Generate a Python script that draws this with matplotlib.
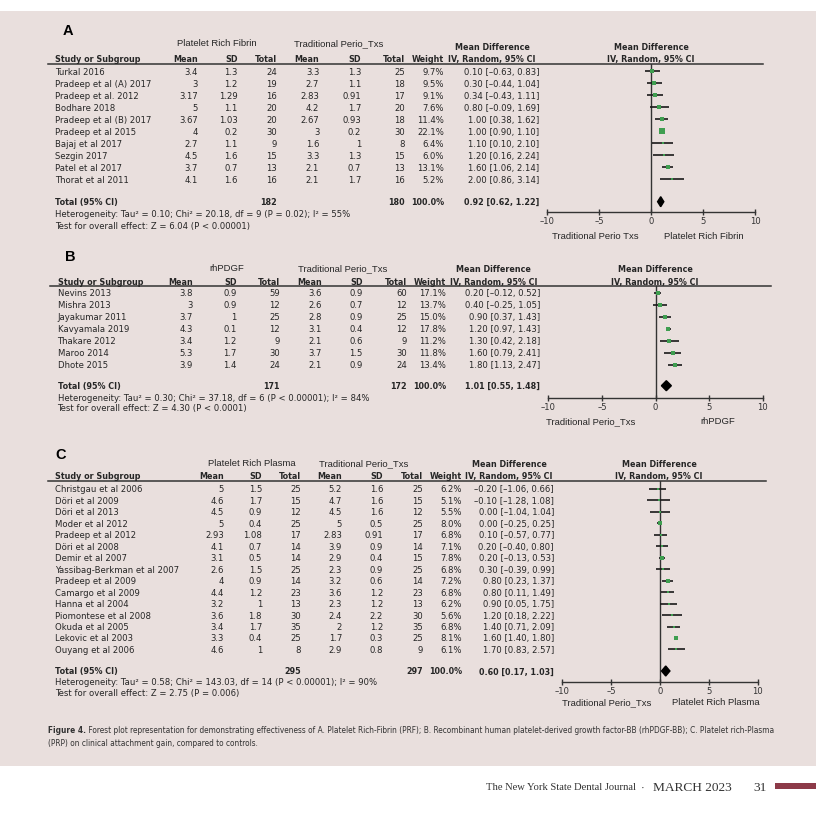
import matplotlib
matplotlib.use("Agg")
import matplotlib.pyplot as plt
from matplotlib.lines import Line2D
from matplotlib.patches import Rectangle
from matplotlib import font_manager as fm

# ------------------------------------------------------------------ data
xticks = [-10, -5, 0, 5, 10]

# Panel A
A_exp_name = "Platelet Rich Fibrin"
A_ctl_name = "Traditional Perio_Txs"
A_studies = ["Turkal 2016", "Pradeep et al (A) 2017", "Pradeep et al. 2012", "Bodhare 2018",
             "Pradeep et al (B) 2017", "Pradeep et al 2015", "Bajaj et al 2017", "Sezgin 2017",
             "Patel et al 2017", "Thorat et al 2011"]
A_exp_mean = [3.4, 3, 3.17, 5, 3.67, 4, 2.7, 4.5, 3.7, 4.1]
A_exp_sd = [1.3, 1.2, 1.29, 1.1, 1.03, 0.2, 1.1, 1.6, 0.7, 1.6]
A_exp_n = [24, 19, 16, 20, 20, 30, 9, 15, 13, 16]
A_ctl_mean = [3.3, 2.7, 2.83, 4.2, 2.67, 3, 1.6, 3.3, 2.1, 2.1]
A_ctl_sd = [1.3, 1.1, 0.91, 1.7, 0.93, 0.2, 1, 1.3, 0.7, 1.7]
A_ctl_n = [25, 18, 17, 20, 18, 30, 8, 15, 13, 16]
A_weight = [9.7, 9.5, 9.1, 7.6, 11.4, 22.1, 6.4, 6.0, 13.1, 5.2]
A_md = [0.10, 0.30, 0.34, 0.80, 1.00, 1.00, 1.10, 1.20, 1.60, 2.00]
A_lo = [-0.63, -0.44, -0.43, -0.09, 0.38, 0.90, 0.10, 0.16, 1.06, 0.86]
A_hi = [0.83, 1.04, 1.11, 1.69, 1.62, 1.10, 2.10, 2.24, 2.14, 3.14]
A_total_n = [182, 180]
A_total_weight = 100.0
A_total_md = [0.92, 0.62, 1.22]
A_het = "Heterogeneity: Tau\u00b2 = 0.10; Chi\u00b2 = 20.18, df = 9 (P = 0.02); I\u00b2 = 55%"
A_test = "Test for overall effect: Z = 6.04 (P < 0.00001)"
A_axis_labels = ["Traditional Perio Txs", "Platelet Rich Fibrin"]

# Panel B
B_exp_name = "rhPDGF"
B_ctl_name = "Traditional Perio_Txs"
B_studies = ["Nevins 2013", "Mishra 2013", "Jayakumar 2011", "Kavyamala 2019",
             "Thakare 2012", "Maroo 2014", "Dhote 2015"]
B_exp_mean = [3.8, 3, 3.7, 4.3, 3.4, 5.3, 3.9]
B_exp_sd = [0.9, 0.9, 1, 0.1, 1.2, 1.7, 1.4]
B_exp_n = [59, 12, 25, 12, 9, 30, 24]
B_ctl_mean = [3.6, 2.6, 2.8, 3.1, 2.1, 3.7, 2.1]
B_ctl_sd = [0.9, 0.7, 0.9, 0.4, 0.6, 1.5, 0.9]
B_ctl_n = [60, 12, 25, 12, 9, 30, 24]
B_weight = [17.1, 13.7, 15.0, 17.8, 11.2, 11.8, 13.4]
B_md = [0.20, 0.40, 0.90, 1.20, 1.30, 1.60, 1.80]
B_lo = [-0.12, -0.25, 0.37, 0.97, 0.42, 0.79, 1.13]
B_hi = [0.52, 1.05, 1.43, 1.43, 2.18, 2.41, 2.47]
B_total_n = [171, 172]
B_total_weight = 100.0
B_total_md = [1.01, 0.55, 1.48]
B_het = "Heterogeneity: Tau\u00b2 = 0.30; Chi\u00b2 = 37.18, df = 6 (P < 0.00001); I\u00b2 = 84%"
B_test = "Test for overall effect: Z = 4.30 (P < 0.0001)"
B_axis_labels = ["Traditional Perio_Txs", "rhPDGF"]

# Panel C
C_exp_name = "Platelet Rich Plasma"
C_ctl_name = "Traditional Perio_Txs"
C_studies = ["Christgau et al 2006", "D\u00f6ri et al 2009", "D\u00f6ri et al 2013", "Moder et al 2012",
             "Pradeep et al 2012", "D\u00f6ri et al 2008", "Demir et al 2007",
             "Yassibag-Berkman et al 2007", "Pradeep et al 2009", "Camargo et al 2009",
             "Hanna et al 2004", "Piomontese et al 2008", "Okuda et al 2005",
             "Lekovic et al 2003", "Ouyang et al 2006"]
C_exp_mean = [5, 4.6, 4.5, 5, 2.93, 4.1, 3.1, 2.6, 4, 4.4, 3.2, 3.6, 3.4, 3.3, 4.6]
C_exp_sd = [1.5, 1.7, 0.9, 0.4, 1.08, 0.7, 0.5, 1.5, 0.9, 1.2, 1, 1.8, 1.7, 0.4, 1]
C_exp_n = [25, 15, 12, 25, 17, 14, 14, 25, 14, 23, 13, 30, 35, 25, 8]
C_ctl_mean = [5.2, 4.7, 4.5, 5, 2.83, 3.9, 2.9, 2.3, 3.2, 3.6, 2.3, 2.4, 2, 1.7, 2.9]
C_ctl_sd = [1.6, 1.6, 1.6, 0.5, 0.91, 0.9, 0.4, 0.9, 0.6, 1.2, 1.2, 2.2, 1.2, 0.3, 0.8]
C_ctl_n = [25, 15, 12, 25, 17, 14, 15, 25, 14, 23, 13, 30, 35, 25, 9]
C_weight = [6.2, 5.1, 5.5, 8.0, 6.8, 7.1, 7.8, 6.8, 7.2, 6.8, 6.2, 5.6, 6.8, 8.1, 6.1]
C_md = [-0.20, -0.10, 0.00, 0.00, 0.10, 0.20, 0.20, 0.30, 0.80, 0.80, 0.90, 1.20, 1.40, 1.60, 1.70]
C_lo = [-1.06, -1.28, -1.04, -0.25, -0.57, -0.40, -0.13, -0.39, 0.23, 0.11, 0.05, 0.18, 0.71, 1.40, 0.83]
C_hi = [0.66, 1.08, 1.04, 0.25, 0.77, 0.80, 0.53, 0.99, 1.37, 1.49, 1.75, 2.22, 2.09, 1.80, 2.57]
C_total_n = [295, 297]
C_total_weight = 100.0
C_total_md = [0.60, 0.17, 1.03]
C_het = "Heterogeneity: Tau\u00b2 = 0.58; Chi\u00b2 = 143.03, df = 14 (P < 0.00001); I\u00b2 = 90%"
C_test = "Test for overall effect: Z = 2.75 (P = 0.006)"
C_axis_labels = ["Traditional Perio_Txs", "Platelet Rich Plasma"]

col_headers = ["Mean", "SD", "Total", "Mean", "SD", "Total", "Weight"]
caption_bold = "Figure 4."
caption_line1 = (" Forest plot representation for demonstrating effectiveness of A. Platelet Rich-Fibrin (PRF); "
                 "B. Recombinant human platelet-derived growth factor-BB (rhPDGF-BB); C. Platelet rich-Plasma")
caption_line2 = "(PRP) on clinical attachment gain, compared to controls."
footer_journal = "The New York State Dental Journal"
footer_issue = "MARCH 2023"
footer_page = "31"

# ------------------------------------------------------------------ style
W, H = 816, 820
BG = "#e9dfdd"
TXT = "#262626"
GREEN = "#3f9e50"
fonts = fm.fontManager.ttflist
avail = {f.name for f in fonts}
TAB = "DejaVu Sans"
ARIAL = "Liberation Sans" if "Liberation Sans" in avail else "DejaVu Sans"
SERIF = "Liberation Serif" if "Liberation Serif" in avail else "DejaVu Serif"


def is_cond(f):
    nm = f.name.lower()
    fn = f.fname.lower()
    return (str(f.stretch) in ("condensed", "semi-condensed", "extra-condensed", "ultra-condensed")
            or "condensed" in nm or "narrow" in nm or "condensed" in fn or "narrow" in fn)


def is_bold(f):
    w = f.weight
    if isinstance(w, str):
        return w in ("bold", "heavy", "black", "demibold", "semibold", "extra bold")
    return w >= 600


cands = [f for f in fonts if is_cond(f) and "mono" not in f.name.lower()
         and f.style == "normal" and "italic" not in f.fname.lower()
         and "oblique" not in f.fname.lower() and "serif" not in f.name.lower().replace("sans", "")]
reg = [f for f in cands if not is_bold(f)]
pref = [f for f in reg if "liberation" in f.name.lower()] + [f for f in reg if "dejavu" in f.name.lower()] + reg
if pref:
    creg = pref[0]
    CAP_REG = fm.FontProperties(fname=creg.fname)
    bolds = [f for f in cands if is_bold(f) and f.name == creg.name and f.stretch == creg.stretch]
    if bolds:
        CAP_BOLD = fm.FontProperties(fname=bolds[0].fname)
    else:
        CAP_BOLD = fm.FontProperties(fname=creg.fname)
else:
    CAP_REG = fm.FontProperties(family=ARIAL)
    CAP_BOLD = fm.FontProperties(family=ARIAL, weight="bold")

FS = 6.1
FSB = 5.75

fig = plt.figure(figsize=(W / 100, H / 100), dpi=100)
fig.patch.set_facecolor("white")


def fx(x):
    return x / W


def fy(y):
    return 1 - y / H


fig.patches.append(Rectangle((0, fy(767)), 1, fy(12) - fy(767), transform=fig.transFigure,
                             facecolor=BG, edgecolor="none", zorder=-5))


def txt(x, y, s, ha="left", bold=False, size=None, family=None, color=TXT, **kw):
    return fig.text(fx(x), fy(y), s, ha=ha, va="center", color=color,
                    fontsize=size if size else (FSB if bold else FS),
                    fontweight="bold" if bold else "normal",
                    family=family if family else TAB, **kw)


def g(v):
    return f"{v:g}"


def mdfmt(m, lo, hi):
    return f"{m:.2f} [{lo:.2f}, {hi:.2f}]".replace("-", "\u2013")


panels = [
    dict(letter="A", lx=63, ly=31, exp=A_exp_name, ctl=A_ctl_name, studies=A_studies,
         em=A_exp_mean, es=A_exp_sd, en=A_exp_n, cm=A_ctl_mean, cs=A_ctl_sd, cn=A_ctl_n,
         w=A_weight, md=A_md, lo=A_lo, hi=A_hi, tn=A_total_n, tw=A_total_weight, tmd=A_total_md,
         het=A_het, test=A_test, axl=A_axis_labels,
         left=55.5, line_x0=48, line_x1=763, grp_y=44, grp_x=(217, 338.5), h1=47.3, h2=59.3,
         line_y=65, row0=72.3, dy=12.0, tot_y=202.7, het_y=214.3, test_y=226,
         cols=[197.7, 237.7, 276.7, 319.3, 361, 404.7, 444.3], mdx=539.3, mdh=492, rh=651,
         ax0=547.3, ax1=755, axy=213.3, axl_y=236.7, axl_x=(595, 704)),
    dict(letter="B", lx=65, ly=257, exp=B_exp_name, ctl=B_ctl_name, studies=B_studies,
         em=B_exp_mean, es=B_exp_sd, en=B_exp_n, cm=B_ctl_mean, cs=B_ctl_sd, cn=B_ctl_n,
         w=B_weight, md=B_md, lo=B_lo, hi=B_hi, tn=B_total_n, tw=B_total_weight, tmd=B_total_md,
         het=B_het, test=B_test, axl=B_axis_labels,
         left=57.5, line_x0=50, line_x1=770.5, grp_y=268.3, grp_x=(226.7, 342.5), h1=270, h2=282.3,
         line_y=287.3, row0=293.7, dy=12.0, tot_y=386.7, het_y=398.3, test_y=409,
         cols=[192.7, 236.7, 280, 321.7, 362.7, 406.7, 446], mdx=540, mdh=493.3, rh=655,
         ax0=548.3, ax1=762.7, axy=399.3, axl_y=422, axl_x=(591, 718)),
    dict(letter="C", lx=55, ly=455, exp=C_exp_name, ctl=C_ctl_name, studies=C_studies,
         em=C_exp_mean, es=C_exp_sd, en=C_exp_n, cm=C_ctl_mean, cs=C_ctl_sd, cn=C_ctl_n,
         w=C_weight, md=C_md, lo=C_lo, hi=C_hi, tn=C_total_n, tw=C_total_weight, tmd=C_total_md,
         het=C_het, test=C_test, axl=C_axis_labels,
         left=55, line_x0=48, line_x1=766, grp_y=464, grp_x=(252, 364), h1=465, h2=476.7,
         line_y=482, row0=490, dy=11.46, tot_y=672, het_y=683, test_y=694,
         cols=[224, 262, 301, 342, 383, 423, 462], mdx=554, mdh=509, rh=659,
         ax0=562, ax1=757.7, axy=683, axl_y=703, axl_x=(606.7, 715.5)),
]

for p in panels:
    fig.text(fx(p["lx"]), fy(p["ly"]), p["letter"], ha="left", va="center",
             fontsize=10.5, fontweight="bold", family=ARIAL, color="black")
    txt(p["grp_x"][0], p["grp_y"], p["exp"], ha="center", family=ARIAL, size=6.8)
    txt(p["grp_x"][1], p["grp_y"], p["ctl"], ha="center", family=ARIAL, size=6.8)
    txt(p["left"], p["h2"], "Study or Subgroup", bold=True)
    for cx, h in zip(p["cols"], col_headers):
        txt(cx, p["h2"], h, ha="right", bold=True)
    txt(p["mdh"], p["h1"], "Mean Difference", ha="center", bold=True)
    txt(p["mdh"], p["h2"], "IV, Random, 95% CI", ha="center", bold=True)
    txt(p["rh"], p["h1"], "Mean Difference", ha="center", bold=True)
    txt(p["rh"], p["h2"], "IV, Random, 95% CI", ha="center", bold=True)
    fig.lines.append(Line2D([fx(p["line_x0"]), fx(p["line_x1"])], [fy(p["line_y"])] * 2,
                            transform=fig.transFigure, color="#333333", lw=1.1))
    rows_y = [p["row0"] + i * p["dy"] for i in range(len(p["studies"]))]
    for i, y in enumerate(rows_y):
        txt(p["left"], y, p["studies"][i])
        vals = [g(p["em"][i]), g(p["es"][i]), str(p["en"][i]), g(p["cm"][i]), g(p["cs"][i]),
                str(p["cn"][i]), f"{p['w'][i]:.1f}%"]
        for cx, v in zip(p["cols"], vals):
            txt(cx, y, v, ha="right")
        txt(p["mdx"], y, mdfmt(p["md"][i], p["lo"][i], p["hi"][i]), ha="right")
    txt(p["left"], p["tot_y"], "Total (95% CI)", bold=True)
    txt(p["cols"][2], p["tot_y"], str(p["tn"][0]), ha="right", bold=True)
    txt(p["cols"][5], p["tot_y"], str(p["tn"][1]), ha="right", bold=True)
    txt(p["cols"][6], p["tot_y"], f"{p['tw']:.1f}%", ha="right", bold=True)
    txt(p["mdx"], p["tot_y"], mdfmt(*p["tmd"]), ha="right", bold=True)
    txt(p["left"], p["het_y"], p["het"])
    txt(p["left"], p["test_y"], p["test"])

    ax = fig.add_axes([fx(p["ax0"]), fy(p["axy"]), (p["ax1"] - p["ax0"]) / W,
                       (p["axy"] - p["line_y"]) / H])
    ax.set_facecolor("none")
    ax.set_xlim(xticks[0], xticks[-1])
    ax.set_ylim(p["axy"], p["line_y"])
    for s in ("top", "left", "right"):
        ax.spines[s].set_visible(False)
    ax.spines["bottom"].set_color("#333333")
    ax.spines["bottom"].set_linewidth(1.0)
    ax.set_yticks([])
    ax.set_xticks(xticks)
    ax.set_xticklabels([str(t).replace("-", "\u2013") for t in xticks], family=TAB)
    ax.tick_params(axis="x", direction="inout", length=5, width=1, pad=0.5,
                   labelsize=FS, colors="#333333")
    ax.axvline(0, color="#333333", lw=1.0)
    for i, y in enumerate(rows_y):
        ax.plot([p["lo"][i], p["hi"][i]], [y, y], color="#1a1a1a", lw=1.2, clip_on=False,
                solid_capstyle="butt")
        side = 2.0 + 0.14 * p["w"][i]
        ax.plot([p["md"][i]], [y], marker="s", ms=side * 0.72, color=GREEN, mew=0,
                clip_on=False, zorder=3)
    m, lo, hi = p["tmd"]
    ty = p["tot_y"]
    ax.fill([lo, m, hi, m], [ty, ty - 5, ty, ty + 5], color="black", clip_on=False, zorder=3)
    txt(p["axl_x"][0], p["axl_y"], p["axl"][0], ha="center", family=ARIAL, size=6.8)
    txt(p["axl_x"][1], p["axl_y"], p["axl"][1], ha="center", family=ARIAL, size=6.8)

# ------------------------------------------------------------------ caption
r = fig.canvas.get_renderer()
tb = fig.text(fx(48), fy(731), caption_bold, ha="left", va="center",
              fontproperties=CAP_BOLD, color="#333333")
tr = fig.text(fx(48), fy(731), caption_line1, ha="left", va="center",
              fontproperties=CAP_REG, color="#333333")
tb.set_fontsize(8)
tr.set_fontsize(8)
wb = tb.get_window_extent(r).width
wr = tr.get_window_extent(r).width
size = 8 * (775 - 48) / (wb + wr)
tb.set_fontsize(size)
tr.set_fontsize(size)
wb = tb.get_window_extent(r).width
tr.set_x(fx(48 + wb))
t2 = fig.text(fx(48), fy(743.5), caption_line2, ha="left", va="center",
              fontproperties=CAP_REG, color="#333333")
t2.set_fontsize(size)

# ------------------------------------------------------------------ footer
fig.text(fx(636), fy(788), footer_journal, ha="right", va="center", family=SERIF,
         fontsize=7.6, color="#333333")
fig.text(fx(642.5), fy(788), "\u00b7", ha="center", va="center", family=SERIF,
         fontsize=8, color="#333333")
fig.text(fx(653), fy(788), footer_issue, ha="left", va="center", family=SERIF,
         fontsize=9.6, color="#333333")
fig.text(fx(767), fy(788), footer_page, ha="right", va="center", family=SERIF,
         fontsize=9.6, color="#333333")
fig.patches.append(Rectangle((fx(775), fy(790)), 1 - fx(775), fy(784) - fy(790),
                             transform=fig.transFigure, facecolor="#8c3a48", edgecolor="none"))

fig.savefig("out.png", dpi=100, facecolor="white")
